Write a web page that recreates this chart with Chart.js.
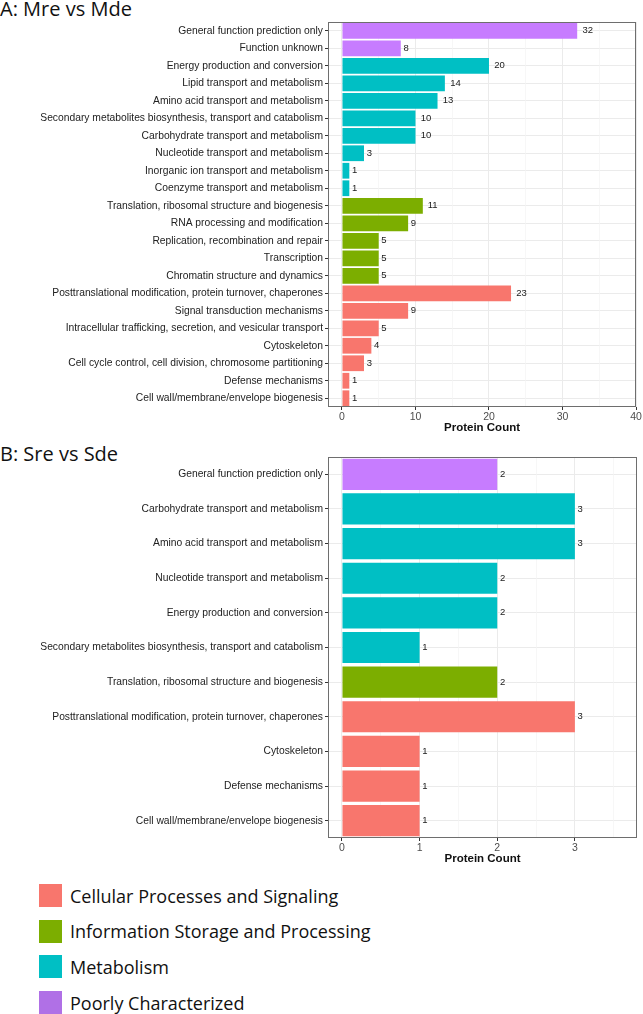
<!DOCTYPE html>
<html lang="en">
<head>
<meta charset="UTF-8">
<title>COG functional categories</title>
<script src="https://cdn.jsdelivr.net/npm/chart.js"></script>
<style>
  body { margin: 0; width: 643px; height: 1014px; background: #fff; position: relative; overflow: hidden; font-family: "Open Sans", sans-serif; }
  .panel-title { position: absolute; left: 0; font-size: 20px; line-height: 1; color: #111; white-space: nowrap; }
  #titleA { top: -1px; }
  #titleB { top: 444px; }
  #chartA { position: absolute; left: 0; top: 0; }
  #chartB { position: absolute; left: 0; top: 440px; }
  .legend { position: absolute; left: 39px; top: 884px; }
  .legend-row { display: flex; align-items: center; height: 23px; margin-bottom: 12.7px; }
  .swatch { width: 23px; height: 23px; margin-right: 8px; }
  .legend-row span { font-size: 18px; color: #111; white-space: nowrap; }
</style>
</head>
<body>

<div class="panel-title" id="titleA">A: Mre vs Mde</div>
<canvas id="chartA" width="643" height="435"></canvas>

<div class="panel-title" id="titleB">B: Sre vs Sde</div>
<canvas id="chartB" width="643" height="426"></canvas>

<div class="legend" id="legend"></div>

<script>
// ---- data ----
const groupNames = ['Cellular Processes and Signaling', 'Information Storage and Processing', 'Metabolism', 'Poorly Characterized'];

const categoriesA = [
  'General function prediction only',
  'Function unknown',
  'Energy production and conversion',
  'Lipid transport and metabolism',
  'Amino acid transport and metabolism',
  'Secondary metabolites biosynthesis, transport and catabolism',
  'Carbohydrate transport and metabolism',
  'Nucleotide transport and metabolism',
  'Inorganic ion transport and metabolism',
  'Coenzyme transport and metabolism',
  'Translation, ribosomal structure and biogenesis',
  'RNA processing and modification',
  'Replication, recombination and repair',
  'Transcription',
  'Chromatin structure and dynamics',
  'Posttranslational modification, protein turnover, chaperones',
  'Signal transduction mechanisms',
  'Intracellular trafficking, secretion, and vesicular transport',
  'Cytoskeleton',
  'Cell cycle control, cell division, chromosome partitioning',
  'Defense mechanisms',
  'Cell wall/membrane/envelope biogenesis'
];
const valuesA = [32, 8, 20, 14, 13, 10, 10, 3, 1, 1, 11, 9, 5, 5, 5, 23, 9, 5, 4, 3, 1, 1];
const groupsA = [
  'Poorly Characterized', 'Poorly Characterized',
  'Metabolism', 'Metabolism', 'Metabolism', 'Metabolism', 'Metabolism', 'Metabolism', 'Metabolism', 'Metabolism',
  'Information Storage and Processing', 'Information Storage and Processing', 'Information Storage and Processing',
  'Information Storage and Processing', 'Information Storage and Processing',
  'Cellular Processes and Signaling', 'Cellular Processes and Signaling', 'Cellular Processes and Signaling',
  'Cellular Processes and Signaling', 'Cellular Processes and Signaling', 'Cellular Processes and Signaling',
  'Cellular Processes and Signaling'
];
const majorTicksA = [0, 10, 20, 30, 40];
const minorTicksA = [5, 15, 25, 35];

const categoriesB = [
  'General function prediction only',
  'Carbohydrate transport and metabolism',
  'Amino acid transport and metabolism',
  'Nucleotide transport and metabolism',
  'Energy production and conversion',
  'Secondary metabolites biosynthesis, transport and catabolism',
  'Translation, ribosomal structure and biogenesis',
  'Posttranslational modification, protein turnover, chaperones',
  'Cytoskeleton',
  'Defense mechanisms',
  'Cell wall/membrane/envelope biogenesis'
];
const valuesB = [2, 3, 3, 2, 2, 1, 2, 3, 1, 1, 1];
const groupsB = [
  'Poorly Characterized',
  'Metabolism', 'Metabolism', 'Metabolism', 'Metabolism', 'Metabolism',
  'Information Storage and Processing',
  'Cellular Processes and Signaling', 'Cellular Processes and Signaling', 'Cellular Processes and Signaling',
  'Cellular Processes and Signaling'
];
const majorTicksB = [0, 1, 2, 3];
const minorTicksB = [0.5, 1.5, 2.5, 3.5];

// ---- styles ----
const barColors = {
  'Cellular Processes and Signaling': '#F8766D',
  'Information Storage and Processing': '#7CAE00',
  'Metabolism': '#00BFC4',
  'Poorly Characterized': '#C77CFF'
};
const legendColors = {
  'Cellular Processes and Signaling': '#F8766D',
  'Information Storage and Processing': '#7CAE00',
  'Metabolism': '#00BFC4',
  'Poorly Characterized': '#B070E6'
};
const axisFont = '"Liberation Sans", Arial, sans-serif';

// count label placed to the right of each bar (hjust = -0.5 style)
const valueLabels = {
  id: 'valueLabels',
  afterDatasetsDraw(chart) {
    const ctx = chart.ctx;
    const meta = chart.getDatasetMeta(0);
    const data = chart.data.datasets[0].data;
    ctx.save();
    ctx.font = '9.5px ' + axisFont;
    ctx.fillStyle = '#1a1a1a';
    ctx.textBaseline = 'middle';
    ctx.textAlign = 'left';
    meta.data.forEach((bar, i) => {
      const txt = String(data[i]);
      const w = ctx.measureText(txt).width;
      ctx.fillText(txt, bar.x + w * 0.5, bar.y);
    });
    ctx.restore();
  }
};

// full rectangle round the plotting panel
const panelBorder = {
  id: 'panelBorder',
  afterDraw(chart) {
    const a = chart.chartArea;
    const ctx = chart.ctx;
    ctx.save();
    ctx.strokeStyle = '#6e6e6e';
    ctx.lineWidth = 1;
    ctx.strokeRect(Math.round(a.left) + 0.5, Math.round(a.top) + 0.5,
      Math.round(a.right - a.left) - 1, Math.round(a.bottom - a.top) - 1);
    ctx.restore();
  }
};

function makeChart(id, labels, values, groups, opts) {
  const majors = opts.majors;
  const allTicks = majors.concat(opts.minors).sort((a, b) => a - b);
  return new Chart(document.getElementById(id).getContext('2d'), {
    type: 'bar',
    data: {
      labels: labels,
      datasets: [{
        data: values,
        backgroundColor: groups.map(g => barColors[g]),
        borderWidth: 0,
        categoryPercentage: 0.9,
        barPercentage: 1.0
      }]
    },
    options: {
      indexAxis: 'y',
      responsive: false,
      animation: false,
      layout: { padding: opts.padding },
      plugins: { legend: { display: false }, tooltip: { enabled: false } },
      scales: {
        y: {
          type: 'category',
          offset: true,
          border: { display: false },
          grid: { offset: false, color: '#EBEBEB', lineWidth: 1, tickColor: '#333', tickLength: 3 },
          ticks: { font: { family: axisFont, size: 10.3 }, color: '#222', padding: 2, autoSkip: false },
          afterFit: s => { s.width = opts.yWidth; }
        },
        x: {
          min: opts.min,
          max: opts.max,
          border: { display: false },
          afterBuildTicks: s => { s.ticks = allTicks.map(v => ({ value: v })); },
          grid: {
            color: c => majors.includes(c.tick.value) ? '#EBEBEB' : '#F3F3F3',
            lineWidth: c => majors.includes(c.tick.value) ? 1 : 0.7,
            tickColor: c => majors.includes(c.tick.value) ? '#333' : 'rgba(0,0,0,0)',
            tickLength: 3
          },
          ticks: {
            font: { family: axisFont, size: 10.5 },
            color: '#4D4D4D',
            padding: 1,
            maxRotation: 0,
            autoSkip: false,
            callback: v => majors.includes(v) ? String(v) : ''
          },
          title: {
            display: true,
            text: 'Protein Count',
            font: { family: axisFont, size: 11.5, weight: 'bold' },
            color: '#111',
            padding: { top: 0, bottom: 0 }
          },
          afterFit: s => { s.height = opts.xHeight; s.paddingLeft = 0; s.paddingRight = 0; }
        }
      }
    },
    plugins: [valueLabels, panelBorder]
  });
}

makeChart('chartA', categoriesA, valuesA, groupsA, {
  majors: majorTicksA, minors: minorTicksA,
  min: -1.9, max: 40,
  padding: { top: 22, right: 7, left: 0, bottom: 0 },
  yWidth: 328, xHeight: 28
});

makeChart('chartB', categoriesB, valuesB, groupsB, {
  majors: majorTicksB, minors: minorTicksB,
  min: -0.18, max: 3.8,
  padding: { top: 17, right: 6, left: 0, bottom: 0 },
  yWidth: 328, xHeight: 28
});

// legend below both panels
const legend = document.getElementById('legend');
groupNames.forEach(name => {
  const row = document.createElement('div');
  row.className = 'legend-row';
  row.innerHTML = '<div class="swatch" style="background:' + legendColors[name] + '"></div><span>' + name + '</span>';
  legend.appendChild(row);
});
</script>

</body>
</html>
